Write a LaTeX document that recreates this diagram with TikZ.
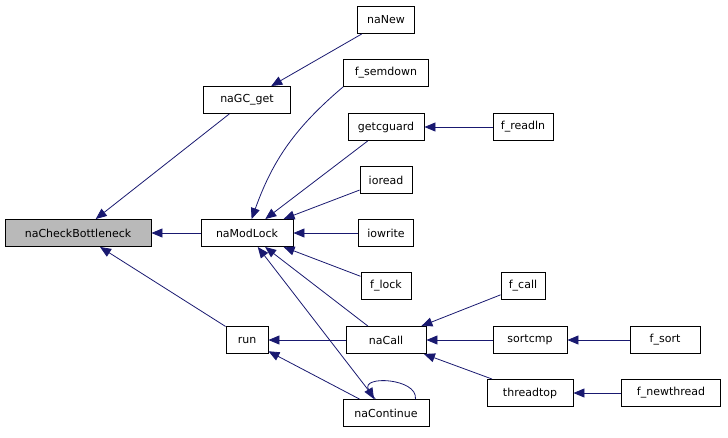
\documentclass[tikz,border=0pt]{standalone}
\usepackage{fontspec}
\setmainfont{DejaVu Sans}
\usetikzlibrary{arrows.meta}
\definecolor{edgeblue}{RGB}{25,25,112}
\tikzset{fnbox/.style={draw=black, line width=0.9pt, fill=white, minimum height=27pt, inner sep=0pt, font=\fontsize{11}{13}\selectfont},
  edge/.style={draw=edgeblue, line width=0.8pt, -{Stealth[length=11pt,width=9pt,inset=0pt]}}}
\begin{document}
\begin{tikzpicture}[x=1pt,y=-1pt]
\useasboundingbox (0,0) rectangle (728,437);
% callers on the right
\node[fnbox, fill=gray!55, minimum width=146pt] (nacb) at (78,233) {naCheckBottleneck};
\node[fnbox, minimum width=87pt] (gcget) at (247,100) {naGC\_get};
\node[fnbox, minimum width=57pt] (nanew) at (386,20) {naNew};
\node[fnbox, minimum width=92pt] (modlock) at (247,233) {naModLock};
\node[fnbox, minimum width=85pt] (semdown) at (386,73) {f\_semdown};
\node[fnbox, minimum width=76pt] (cguard) at (386,127) {getcguard};
\node[fnbox, minimum width=60pt] (readln) at (523,127) {f\_readln};
\node[fnbox, minimum width=52pt] (ioread) at (386,180) {ioread};
\node[fnbox, minimum width=55pt] (iowrite) at (386,233) {iowrite};
\node[fnbox, minimum width=50pt] (flock) at (386,286) {f\_lock};
\node[fnbox, minimum width=42pt] (run) at (247,340) {run};
\node[fnbox, minimum width=80pt] (nacall) at (386,340) {naCall};
\node[fnbox, minimum width=44pt] (fcall) at (523,286) {f\_call};
\node[fnbox, minimum width=74pt] (sortcmp) at (530,340) {sortcmp};
\node[fnbox, minimum width=70pt] (fsort) at (665,340) {f\_sort};
\node[fnbox, minimum width=86pt] (thtop) at (530,393) {threadtop};
\node[fnbox, minimum width=99pt] (newthr) at (671,393) {f\_newthread};
\node[fnbox, minimum width=86pt] (nacont) at (386,413) {naContinue};

% edges, caller to callee
\draw[edge] (gcget) -- (nacb);
\draw[edge] (modlock) -- (nacb);
\draw[edge] (run) -- (nacb);
\draw[edge] (nanew) -- (gcget);
\draw[edge] (semdown.south west) to[bend right=15] (modlock);
\draw[edge] (cguard) -- (modlock);
\draw[edge] (ioread) -- (modlock);
\draw[edge] (iowrite) -- (modlock);
\draw[edge] (flock) -- (modlock);
\draw[edge] (nacall) -- (modlock);
\draw[edge] (nacont) -- (modlock);
\draw[edge] (readln) -- (cguard);
\draw[edge] (nacall) -- (run);
\draw[edge] (nacont) -- (run);
\draw[edge] (fcall) -- (nacall);
\draw[edge] (sortcmp) -- (nacall);
\draw[edge] (thtop) -- (nacall);
\draw[edge] (fsort) -- (sortcmp);
\draw[edge] (newthr) -- (thtop);
\draw[edge] (nacont.north east) ++(-14,0) .. controls (418,378) and (360,375) .. ([xshift=-12pt]nacont.north);
\end{tikzpicture}
\end{document}
